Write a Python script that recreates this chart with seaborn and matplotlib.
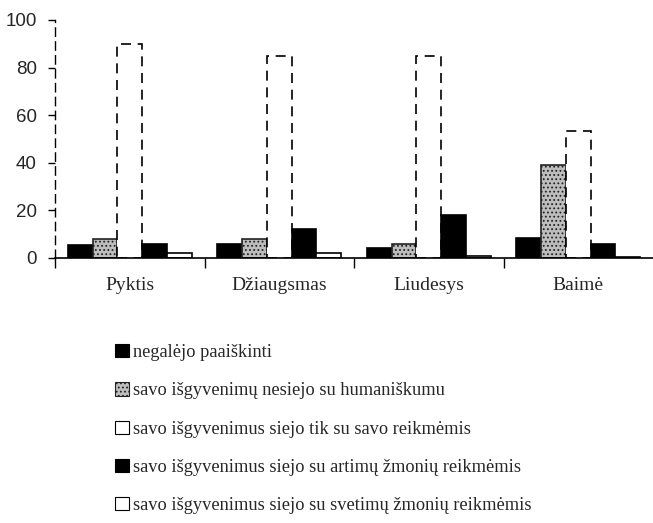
import matplotlib
matplotlib.use("Agg")
import matplotlib.pyplot as plt
from matplotlib.patches import Patch
from matplotlib.ticker import FixedLocator
import pandas as pd
import seaborn as sns

emotions = ["Pyktis", "Džiaugsmas", "Liudesys", "Baimė"]
groups = [
    "negalėjo paaiškinti",
    "savo išgyvenimų nesiejo su humaniškumu",
    "savo išgyvenimus siejo tik su savo reikmėmis",
    "savo išgyvenimus siejo su artimų žmonių reikmėmis",
    "savo išgyvenimus siejo su svetimų žmonių reikmėmis",
]
negalejo = [5.5, 6, 4, 8.5]
nesiejo = [8, 8, 6, 39]
savo = [90, 85, 85, 53.5]
artimu = [6, 12, 18, 6]
svetimu = [2, 2, 1, 0.3]

values = [negalejo, nesiejo, savo, artimu, svetimu]
rows = []
for g, vals in zip(groups, values):
    for e, v in zip(emotions, vals):
        rows.append({"emotion": e, "group": g, "value": v})
df = pd.DataFrame(rows)

# fill, edge, hatch, linestyle for each series
styles = [
    dict(facecolor="black", edgecolor="black", hatch=None, linestyle="-"),
    dict(facecolor="#bdbdbd", edgecolor="#222222", hatch="....", linestyle="-"),
    dict(facecolor="white", edgecolor="black", hatch=None, linestyle=(0, (6, 4))),
    dict(facecolor="black", edgecolor="black", hatch=None, linestyle="-"),
    dict(facecolor="white", edgecolor="black", hatch=None, linestyle="-"),
]

sns.set_theme(style="white")
plt.rcParams["font.family"] = ["Liberation Serif", "DejaVu Serif"]
plt.rcParams["hatch.linewidth"] = 0.8

fig = plt.figure(figsize=(6.53, 5.23), dpi=100)
ax = fig.add_axes([55 / 653, 265 / 523, 598 / 653, 238 / 523])

sns.barplot(data=df, x="emotion", y="value", hue="group", hue_order=groups,
            order=emotions, width=0.83, saturation=1, legend=False, ax=ax)

for cont, st in zip(ax.containers, styles):
    for bar in cont:
        bar.set_facecolor(st["facecolor"])
        bar.set_edgecolor(st["edgecolor"])
        bar.set_linestyle(st["linestyle"])
        bar.set_linewidth(1.2)
        if st["hatch"]:
            bar.set_hatch(st["hatch"])

ax.set_xlim(-0.5, 3.5)
ax.set_ylim(0, 100)
ax.set_yticks([0, 20, 40, 60, 80, 100])
ax.set_xlabel("")
ax.set_ylabel("")

for s in ["top", "right"]:
    ax.spines[s].set_visible(False)
ax.spines["left"].set_linestyle((0, (6, 4)))
ax.spines["left"].set_linewidth(1)
ax.spines["bottom"].set_linewidth(1.2)
ax.spines["left"].set_color("black")
ax.spines["bottom"].set_color("black")

ax.tick_params(axis="y", which="major", direction="out", length=5, width=1,
               color="black", pad=8, left=True)
for lab in ax.get_yticklabels():
    lab.set_fontfamily(["Liberation Sans", "DejaVu Sans"])
    lab.set_fontsize(13.5)

ax.xaxis.set_minor_locator(FixedLocator([-0.5, 0.5, 1.5, 2.5]))
ax.tick_params(axis="x", which="major", length=0, pad=14, labelsize=14)
ax.tick_params(axis="x", which="minor", direction="out", length=7, width=1,
               color="black", bottom=True)

handles = [Patch(facecolor=st["facecolor"], edgecolor=st["edgecolor"],
                 hatch=st["hatch"], linewidth=0.8) for st in styles]
fig.legend(handles, groups, loc="upper left", bbox_to_anchor=(108 / 653, 1 - 337 / 523),
           frameon=False, fontsize=13.2, handlelength=0.72, handleheight=0.72,
           handletextpad=0.25, labelspacing=1.15, borderaxespad=0)

fig.savefig("out.png", dpi=100)
